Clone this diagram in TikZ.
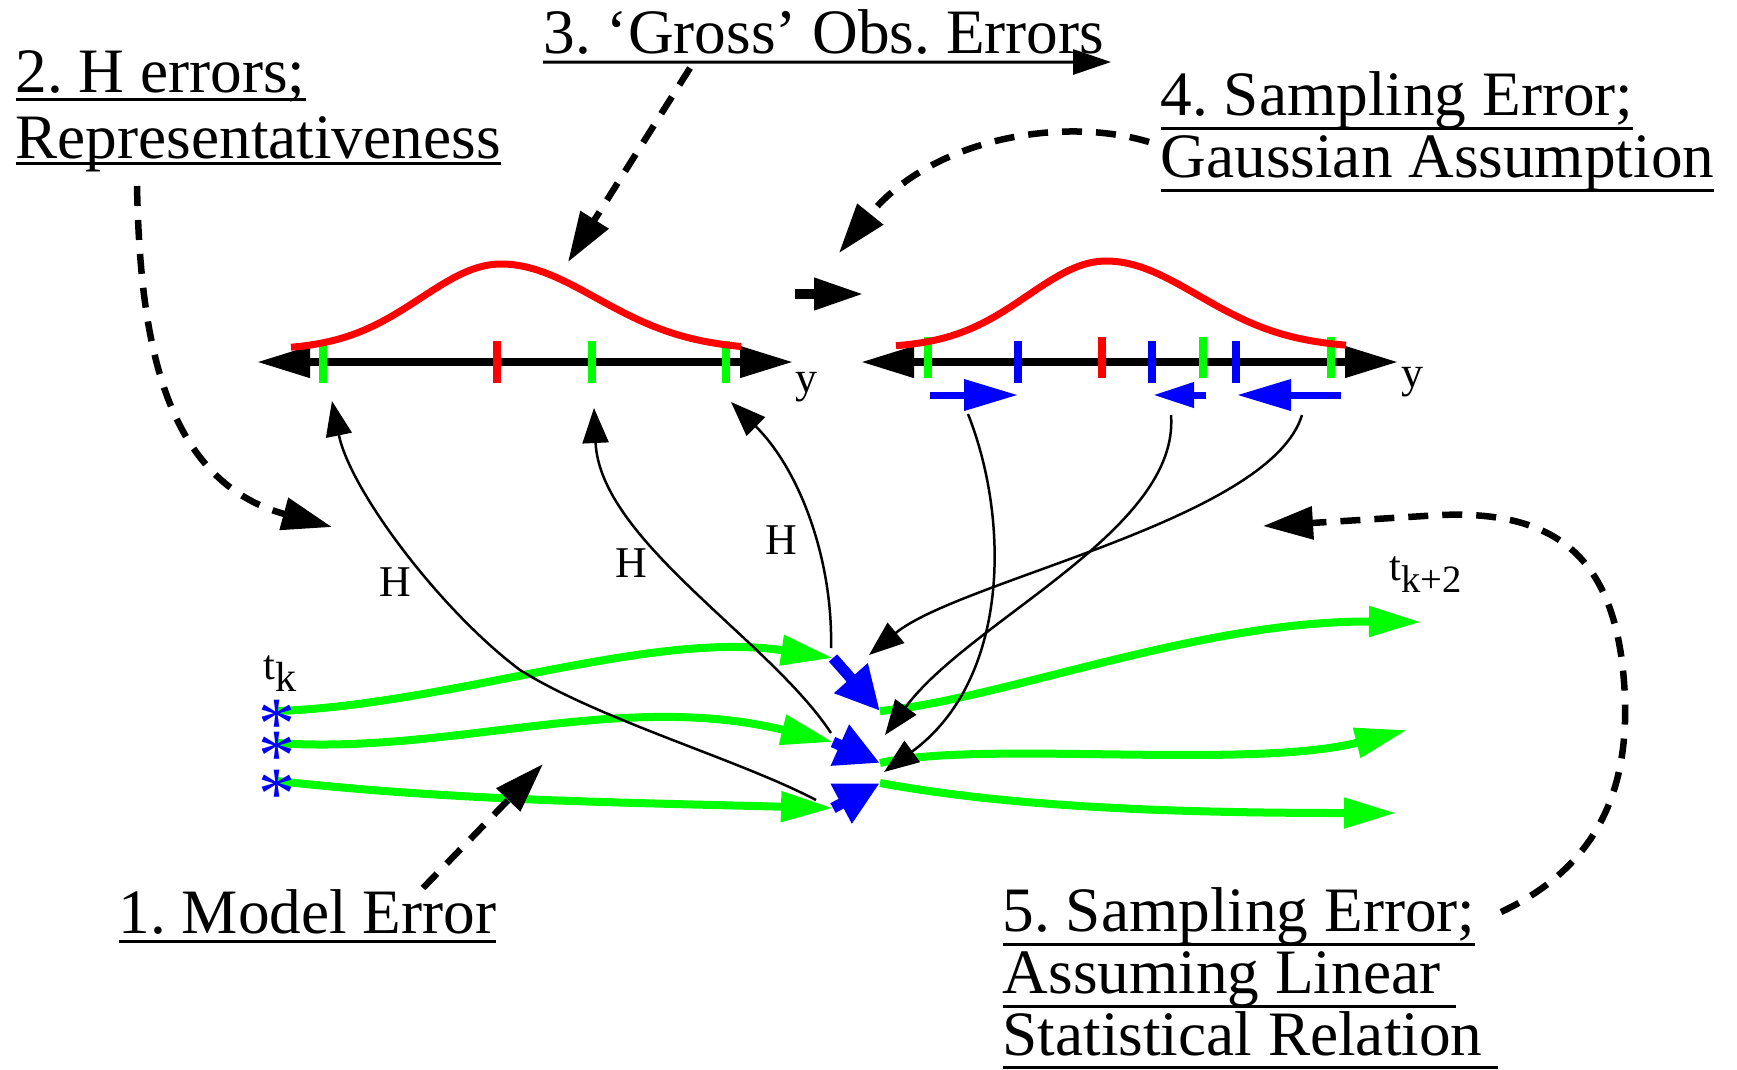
\documentclass[tikz,border=0pt]{standalone}
\usepackage{fontspec}
\setmainfont{Liberation Serif}
\usetikzlibrary{arrows.meta}
\definecolor{ensgreen}{RGB}{0,255,0}
\definecolor{pdfred}{RGB}{255,0,0}
\definecolor{incblue}{RGB}{0,0,255}
\newcommand{\ulbar}[2][0.7mm]{\setbox0=\hbox{#2}\rlap{\rule[\dimexpr-#1-0.15mm\relax]{\wd0}{0.3mm}}\box0}
\frenchspacing

\begin{document}
\begin{tikzpicture}[
	x=0.1mm, y=-0.1mm,
	font=\fontsize{18}{18.5}\selectfont,
	% Styles for the texts
	errlabel/.style={inner sep=0pt, anchor=base west, align=left},
	smalltext/.style={font=\fontsize{12.5}{14}\selectfont, inner sep=0pt},
	axistext/.style={font=\fontsize{12.5}{14}\selectfont, inner sep=0pt, anchor=base west},
	timetext/.style={font=\fontsize{12}{14}\selectfont, inner sep=0pt, anchor=base west},
	ensstar/.style={text=incblue, font=\fontsize{21}{21}\selectfont, inner sep=0pt, anchor=north},
	% Styles for the axes, pdfs and ticks
	yaxis/.style={line width=0.75mm, {Triangle[length=5.3mm,width=3mm]}-{Triangle[length=5.3mm,width=3mm]}},
	pdfcurve/.style={draw=pdfred, line width=0.7mm},
	enstick/.style={draw=ensgreen, line width=0.75mm},
	meantick/.style={draw=pdfred, line width=0.75mm},
	posttick/.style={draw=incblue, line width=0.75mm},
	% Styles for the connectors
	traj/.style={draw=ensgreen, line width=0.8mm, -{Triangle[length=5.2mm,width=2.9mm]}},
	incr/.style={draw=incblue, line width=1.1mm, -{Triangle[length=4.4mm,width=4.2mm]}},
	pullarrow/.style={draw=incblue, line width=0.7mm, -{Triangle[length=5.4mm,width=3mm]}},
	hmap/.style={line width=0.25mm, -{Triangle[length=3.5mm,width=2.6mm]}},
	pointer/.style={line width=0.65mm, dash pattern=on 2mm off 1.4mm, -{Triangle[length=5mm,width=3.2mm]}}
	]
	\useasboundingbox (0,0) rectangle (1737,1069);
	
	% ==========================================
	% 1. ERROR LABELS
	% ==========================================
	% (multi-line labels are placed at the baseline of their last line)
	\node[errlabel] (modelerr) at (118,933) {\ulbar[0.8mm]{1. Model Error}};
	\node[errlabel] (herr) at (15,158) {\ulbar{2. H errors;}\\\ulbar[0.55mm]{Representativeness}};
	\node[errlabel] (grosserr) at (543,53) {3. ‘Gross’ Obs. Errors};
	\node[errlabel, font=\fontsize{18}{17.6}\selectfont] (gausserr) at (1160,177) {\ulbar[1.35mm]{4. Sampling Error;}\\\ulbar[1.35mm]{Gaussian Assumption}};
	\node[errlabel, font=\fontsize{18}{17.6}\selectfont] (linerr) at (1002,1055) {\ulbar[1.35mm]{5. Sampling Error;}\\\ulbar[1.3mm]{Assuming Linear\ }\\\ulbar[1.2mm]{Statistical Relation\ }};
	
	% Underline of label 3 ends in an arrow head
	\coordinate (grosstip) at (1111,62);
	\draw[line width=0.3mm, -{Triangle[length=3.8mm,width=2.5mm]}] ([yshift=-0.9mm]grosserr.base west) -- (grosstip);
	
	% ==========================================
	% 2. OBSERVATION AND POSTERIOR AXES
	% ==========================================
	\coordinate (obsL) at (257,362);
	\coordinate (obsR) at (793,362);
	\coordinate (postL) at (861,362);
	\coordinate (postR) at (1398,362);
	\draw[yaxis] (obsL) -- (obsR);
	\draw[yaxis] (postL) -- (postR);
	\node[axistext] (yobs) at (795,392) {y};
	\node[axistext] (ypost) at (1401,387) {y};
	
	% Ticks on the observation axis
	\draw[enstick] (323,341) -- (323,383);
	\draw[meantick] (497,341) -- (497,383);
	\draw[enstick] (592,341) -- (592,383);
	\draw[enstick] (726,341) -- (726,383);
	
	% Ticks on the posterior axis
	\draw[enstick] (928,337) -- (928,378);
	\draw[posttick] (1018,341) -- (1018,383);
	\draw[meantick] (1102,337) -- (1102,378);
	\draw[posttick] (1152,341) -- (1152,383);
	\draw[enstick] (1203,337) -- (1203,378);
	\draw[posttick] (1236,341) -- (1236,383);
	\draw[enstick] (1331,337) -- (1331,378);
	
	% Gaussian pdfs
	\draw[pdfcurve] plot[domain=291:741, samples=90] (\x, {350-86*exp(-0.5*((\x-501)/(\x<501?80:95))^2)});
	\draw[pdfcurve] plot[domain=896:1346, samples=90] (\x, {348-87*exp(-0.5*((\x-1106)/(\x<1106?78:92))^2)});
	
	% Step from prior to posterior
	\coordinate (stepA) at (795,294);
	\coordinate (stepB) at (864,294);
	\draw[line width=1mm, -{Triangle[length=5mm,width=3mm]}] (stepA) -- (stepB);
	
	% Pull of each member towards the posterior
	\coordinate (pa1) at (930,395);
	\coordinate (pb1) at (1018,395);
	\coordinate (pa2) at (1206,395);
	\coordinate (pb2) at (1153,395);
	\coordinate (pa3) at (1341,395);
	\coordinate (pb3) at (1237,395);
	\draw[pullarrow] (pa1) -- (pb1);
	\draw[pullarrow, -{Triangle[length=4.1mm,width=2.4mm]}] (pa2) -- (pb2);
	\draw[pullarrow] (pa3) -- (pb3);
	
	% ==========================================
	% 3. ENSEMBLE TRAJECTORIES
	% ==========================================
	\coordinate (e1) at (277,711);
	\coordinate (e2) at (277,743);
	\coordinate (e3) at (277,781);
	\coordinate (g1) at (833,658);
	\coordinate (g2) at (833,742);
	\coordinate (g3) at (833,808);
	\coordinate (a1) at (880,711);
	\coordinate (a2) at (880,763);
	\coordinate (a3) at (880,783);
	\coordinate (f1) at (1421,622);
	\coordinate (f2) at (1407,730);
	\coordinate (f3) at (1396,813);
	
	\draw[traj] (e1) .. controls (450,705) and (650,630) .. (g1);
	\draw[traj] (e2) .. controls (450,755) and (620,690) .. (g2);
	\draw[traj] (e3) .. controls (450,800) and (600,802) .. (g3);
	\draw[incr] (g1) -- (a1);
	\draw[incr] (g2) -- (a2);
	\draw[incr] (g3) -- (a3);
	\draw[traj] (a1) .. controls (1000,700) and (1200,620) .. (f1);
	\draw[traj] (a2) .. controls (980,740) and (1250,770) .. (f2);
	\draw[traj] (a3) .. controls (1000,805) and (1150,813) .. (f3);
	
	\node[ensstar] (st1) at (277,699) {*};
	\node[ensstar] (st2) at (277,731) {*};
	\node[ensstar] (st3) at (277,769) {*};
	\node[timetext] (tk) at (263,679) {t\raisebox{-1.2mm}{k}};
	\node[timetext] (tkk) at (1389,580) {t\raisebox{-1.2mm}{\fontsize{11}{13}\selectfont k+2}};
	
	% ==========================================
	% 4. OBSERVATION OPERATOR AND UPDATE
	% ==========================================
	\coordinate (hs1) at (816,800);
	\coordinate (he1) at (332,401);
	\coordinate (hs2) at (831,733);
	\coordinate (he2) at (594,408);
	\coordinate (hs3) at (831,648);
	\coordinate (he3) at (731,402);
	\draw[hmap] (hs1) .. controls (740,760) and (600,720) .. (520,670) .. controls (440,610) and (350,490) .. (he1);
	\draw[hmap] (hs2) .. controls (770,640) and (600,540) .. (he2);
	\draw[hmap] (hs3) .. controls (833,560) and (800,470) .. (he3);
	\node[smalltext] (hA) at (395,582) {H};
	\node[smalltext] (hB) at (631,563) {H};
	\node[smalltext] (hC) at (781,540) {H};
	
	\coordinate (cs1) at (968,414);
	\coordinate (ce1) at (884,772);
	\coordinate (cs2) at (1171,415);
	\coordinate (ce2) at (885,735);
	\coordinate (cs3) at (1302,415);
	\coordinate (ce3) at (869,655);
	\draw[hmap] (cs1) .. controls (1010,520) and (1010,680) .. (ce1);
	\draw[hmap] (cs2) .. controls (1180,530) and (970,620) .. (ce2);
	\draw[hmap] (cs3) .. controls (1270,520) and (960,580) .. (ce3);
	
	% ==========================================
	% 5. DASHED POINTERS FROM THE LABELS
	% ==========================================
	\coordinate (d1s) at (423,888);
	\coordinate (d1e) at (543,764);
	\coordinate (d2s) at (137,186);
	\coordinate (d2e) at (332,527);
	\coordinate (d3s) at (690,68);
	\coordinate (d3e) at (568,262);
	\coordinate (d4s) at (1149,142);
	\coordinate (d4e) at (839,253);
	\coordinate (d5s) at (1501,912);
	\coordinate (d5e) at (1263,526);
	\draw[pointer] (d1s) -- (d1e);
	\draw[pointer] (d2s) .. controls (140,330) and (160,480) .. (d2e);
	\draw[pointer] (d3s) -- (d3e);
	\draw[pointer] (d4s) .. controls (1060,115) and (930,140) .. (d4e);
	\draw[pointer] (d5s) .. controls (1590,870) and (1628,800) .. (1625,700) .. controls (1620,560) and (1560,510) .. (1440,515) -- (d5e);
	
\end{tikzpicture}
\end{document}
